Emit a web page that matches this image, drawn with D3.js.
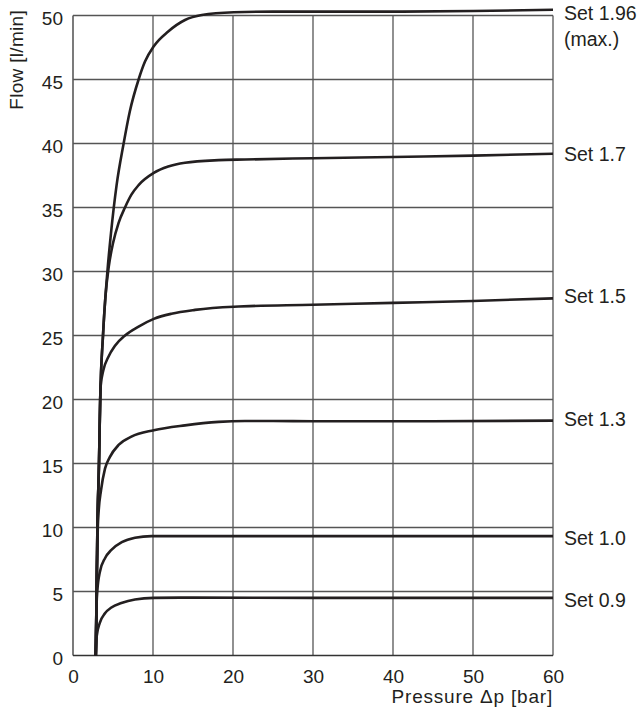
<!DOCTYPE html>
<html>
<head>
<meta charset="utf-8">
<script src="https://cdn.jsdelivr.net/npm/d3@7"></script>
<style>
  body { margin: 0; background: #fff; }
  text { font-family: "Liberation Sans", Arial, sans-serif; fill: #231f20; }
</style>
</head>
<body>
<div id="chart"></div>
<script>
// data: [pressure bar, flow l/min]
var set196 = [[2.85,0],[2.95,5],[3.05,10],[3.25,15],[3.4,20],[3.75,25],[4.3,30],[4.75,33],[5.45,36.75],[6.3,39.9],[7.1,42.5],[8.2,45],[9.0,46.4],[10.1,47.6],[11.9,48.75],[14,49.65],[16.1,50.04],[20.1,50.25],[25,50.3],[30,50.3],[40,50.3],[50,50.35],[60,50.45]];
var set17  = [[2.85,0],[2.95,5],[3.05,10],[3.25,15],[3.4,20],[3.75,25],[4.05,28],[4.5,30.5],[5.0,32.2],[5.7,33.8],[6.5,35],[7.3,36],[8.2,36.75],[10.1,37.7],[11.9,38.2],[14,38.5],[18.2,38.7],[21.5,38.75],[30,38.85],[40,38.95],[50,39.05],[60,39.2]];
var set15  = [[2.85,0],[2.95,5],[3.05,10],[3.25,15],[3.35,18.5],[3.45,21],[3.8,22.3],[4.4,23.3],[5.25,24.2],[6.5,25.0],[8.2,25.7],[10.1,26.3],[12.3,26.7],[15.25,27.0],[20.1,27.25],[30,27.4],[40,27.55],[50,27.7],[60,27.9]];
var set13  = [[2.85,0],[2.95,5],[3.1,10],[3.2,11.2],[3.5,12.9],[4.0,14.6],[4.6,15.5],[5.7,16.45],[7.3,17.1],[10.1,17.6],[14,17.98],[18.2,18.25],[21.5,18.32],[25,18.32],[30,18.3],[45,18.3],[60,18.35]];
var set10  = [[2.85,0],[2.95,4],[3.05,5.1],[3.35,6.5],[4.0,7.6],[4.8,8.25],[6.1,8.85],[7.75,9.2],[9.8,9.33],[15,9.33],[30,9.33],[60,9.33]];
var set09  = [[2.85,0],[2.96,1.5],[3.35,2.55],[4.0,3.3],[4.8,3.75],[6.05,4.1],[7.75,4.38],[10.1,4.5],[15,4.52],[30,4.5],[60,4.5]];

var curves = [set196, set17, set15, set13, set10, set09];
var curveLabels = [["Set 1.96", "(max.)"], ["Set 1.7"], ["Set 1.5"], ["Set 1.3"], ["Set 1.0"], ["Set 0.9"]];
var labelValues = [50.2, 39.18, 28.09, 18.48, 9.18, 4.36];

var xTicks = [0, 10, 20, 30, 40, 50, 60];
var yTicks = [0, 5, 10, 15, 20, 25, 30, 35, 40, 45, 50];

var width = 644, height = 713;
var mLeft = 73, mRight = 553, mTop = 15.5, mBottom = 655.5;

var svg = d3.select('#chart').append('svg')
  .attr('width', width)
  .attr('height', height);

var x = d3.scaleLinear().domain([0, 60]).range([mLeft, mRight]);
var y = d3.scaleLinear().domain([0, 50]).range([mBottom, mTop]);

// grid
var grid = svg.append('g').attr('class', 'grid');
grid.selectAll('.vline').data(xTicks).enter().append('line')
  .attr('x1', function (d) { return x(d); })
  .attr('x2', function (d) { return x(d); })
  .attr('y1', mTop).attr('y2', mBottom)
  .attr('stroke', function (d) { return d === 0 ? '#333' : '#555'; })
  .attr('stroke-width', 1.3);
grid.selectAll('.hline').data(yTicks).enter().append('line')
  .attr('y1', function (d) { return y(d); })
  .attr('y2', function (d) { return y(d); })
  .attr('x1', mLeft).attr('x2', mRight)
  .attr('stroke', function (d) { return d === 0 ? '#333' : '#555'; })
  .attr('stroke-width', 1.3);

// axes (labels only, grid draws the lines)
var xAxis = svg.append('g')
  .attr('transform', 'translate(0,' + mBottom + ')')
  .call(d3.axisBottom(x).tickValues(xTicks).tickSize(0).tickPadding(10));
var yAxis = svg.append('g')
  .attr('transform', 'translate(' + mLeft + ',0)')
  .call(d3.axisLeft(y).tickValues(yTicks).tickSize(0).tickPadding(10));
[xAxis, yAxis].forEach(function (a) {
  a.select('.domain').remove();
  a.selectAll('text')
    .attr('font-size', 19)
    .attr('font-family', '"Liberation Sans", Arial, sans-serif')
    .attr('fill', '#231f20');
});
yAxis.selectAll('text').attr('dy', '0.45em');
xAxis.selectAll('text').attr('dy', '0.9em');

svg.append('text')
  .attr('transform', 'translate(23,10) rotate(-90)')
  .attr('text-anchor', 'end')
  .attr('font-size', 19)
  .attr('letter-spacing', 0.3)
  .text('Flow [l/min]');

svg.append('text')
  .attr('x', mRight)
  .attr('y', 703)
  .attr('text-anchor', 'end')
  .attr('font-size', 19)
  .attr('letter-spacing', 0.8)
  .text('Pressure \u0394p [bar]');

// curves
var line = d3.line()
  .x(function (d) { return x(d[0]); })
  .y(function (d) { return y(d[1]); })
  .curve(d3.curveMonotoneX);

svg.append('g').selectAll('path').data(curves).enter().append('path')
  .attr('d', line)
  .attr('fill', 'none')
  .attr('stroke', '#231f20')
  .attr('stroke-width', 2.6)
  .attr('stroke-linejoin', 'round');

// labels at right
var lab = svg.append('g').selectAll('text').data(curveLabels).enter().append('text')
  .attr('x', 564)
  .attr('y', function (d, i) { return y(labelValues[i]) + 7; })
  .attr('font-size', 19.5);
lab.selectAll('tspan').data(function (d) { return d; }).enter().append('tspan')
  .attr('x', 564)
  .attr('dy', function (d, i) { return i === 0 ? 0 : 26; })
  .text(function (d) { return d; });
</script>
</body>
</html>
